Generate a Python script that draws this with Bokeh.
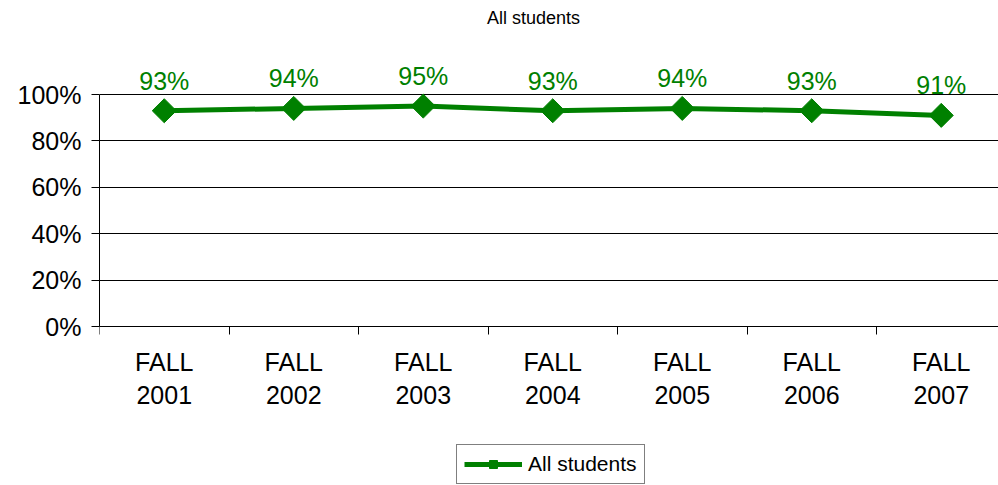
import math
from bokeh.plotting import figure
from bokeh.models import FixedTicker, Legend, LegendItem, PrintfTickFormatter, Label
from bokeh.core.properties import value
from bokeh.embed import file_html
from bokeh.resources import INLINE

categories = ["FALL\n2001", "FALL\n2002", "FALL\n2003", "FALL\n2004", "FALL\n2005", "FALL\n2006", "FALL\n2007"]
all_students = [93, 94, 95, 93, 94, 93, 91]
point_labels = ["93%", "94%", "95%", "93%", "94%", "93%", "91%"]
y_ticks = [0, 20, 40, 60, 80, 100]
series_name = "All students"
title_text = "All students"

GREEN = "#008000"
FONT = "Liberation Sans"

n = len(categories)
xs = [i + 0.5 for i in range(n)]
boundaries = list(range(n + 1))

# layout (pixels): frame fills the window, 0% sits at y=326, 100% at y=94
FRAME_W, FRAME_H = 899, 485
PX_PER_CAT = 129.5
PX_PER_PCT = 2.32
ZERO_Y = 326
y_top = ZERO_Y / PX_PER_PCT
y_bottom = -(FRAME_H - ZERO_Y) / PX_PER_PCT

p = figure(frame_width=FRAME_W, frame_height=FRAME_H,
           x_range=(0, FRAME_W / PX_PER_CAT), y_range=(y_bottom, y_top),
           output_backend="svg", toolbar_location=None,
           min_border_left=99, min_border_right=0, min_border_top=0, min_border_bottom=0)
p.outline_line_color = None
p.background_fill_color = "white"
p.border_fill_color = "white"

# title
p.add_layout(Label(x=(533 - 99) / PX_PER_CAT, y=(ZERO_Y - 17) / PX_PER_PCT, text=title_text,
                   text_align="center", text_baseline="middle", text_font=FONT,
                   text_font_size="18px", text_color="black"))

# x axis (drawn at 0%)
xa = p.xaxis[0]
xa.fixed_location = 0
xa.ticker = FixedTicker(ticks=xs, minor_ticks=boundaries)
xa.major_label_overrides = {x: c for x, c in zip(xs, categories)}
xa.major_tick_out = 0
xa.major_tick_in = 0
xa.minor_tick_out = 8
xa.minor_tick_in = 0
xa.minor_tick_line_color = "black"
xa.axis_line_color = "black"
xa.major_label_text_font = FONT
xa.major_label_text_font_size = "25px"
xa.major_label_text_color = "black"
xa.major_label_standoff = 13

# y axis
ya = p.yaxis[0]
ya.ticker = FixedTicker(ticks=y_ticks)
ya.formatter = PrintfTickFormatter(format="%d%%")
ya.bounds = (0, 100)
ya.major_tick_out = 8
ya.major_tick_in = 0
ya.minor_tick_out = 0
ya.minor_tick_in = 0
ya.axis_line_color = "black"
ya.major_tick_line_color = "black"
ya.major_label_text_font = FONT
ya.major_label_text_font_size = "25px"
ya.major_label_text_color = "black"
ya.major_label_standoff = 10

p.xgrid.grid_line_color = None
p.ygrid.ticker = FixedTicker(ticks=y_ticks)
p.ygrid.grid_line_color = "black"
p.ygrid.grid_line_alpha = 1.0

line_r = p.line(xs, all_students, line_color=GREEN, line_width=5)
mark_r = p.scatter(xs, all_students, marker="square", angle=math.pi / 4, size=17,
                   fill_color=GREEN, line_color=GREEN)
p.text(xs, all_students, text=point_labels, y_offset=-30, text_align="center",
       text_baseline="middle", text_color=GREEN, text_font_size="25px",
       text_font=value(FONT))

legend = Legend(items=[LegendItem(label=series_name, renderers=[line_r, mark_r])],
                location=(357, 1), orientation="horizontal")
legend.border_line_color = "black"
legend.border_line_width = 1
legend.label_text_font = FONT
legend.label_text_font_size = "21px"
legend.label_text_color = "black"
legend.glyph_width = 58
legend.glyph_height = 20
legend.label_standoff = 6
legend.padding = 7
legend.margin = 0
p.add_layout(legend, "center")

open("out.html", "w").write(file_html(p, INLINE))
